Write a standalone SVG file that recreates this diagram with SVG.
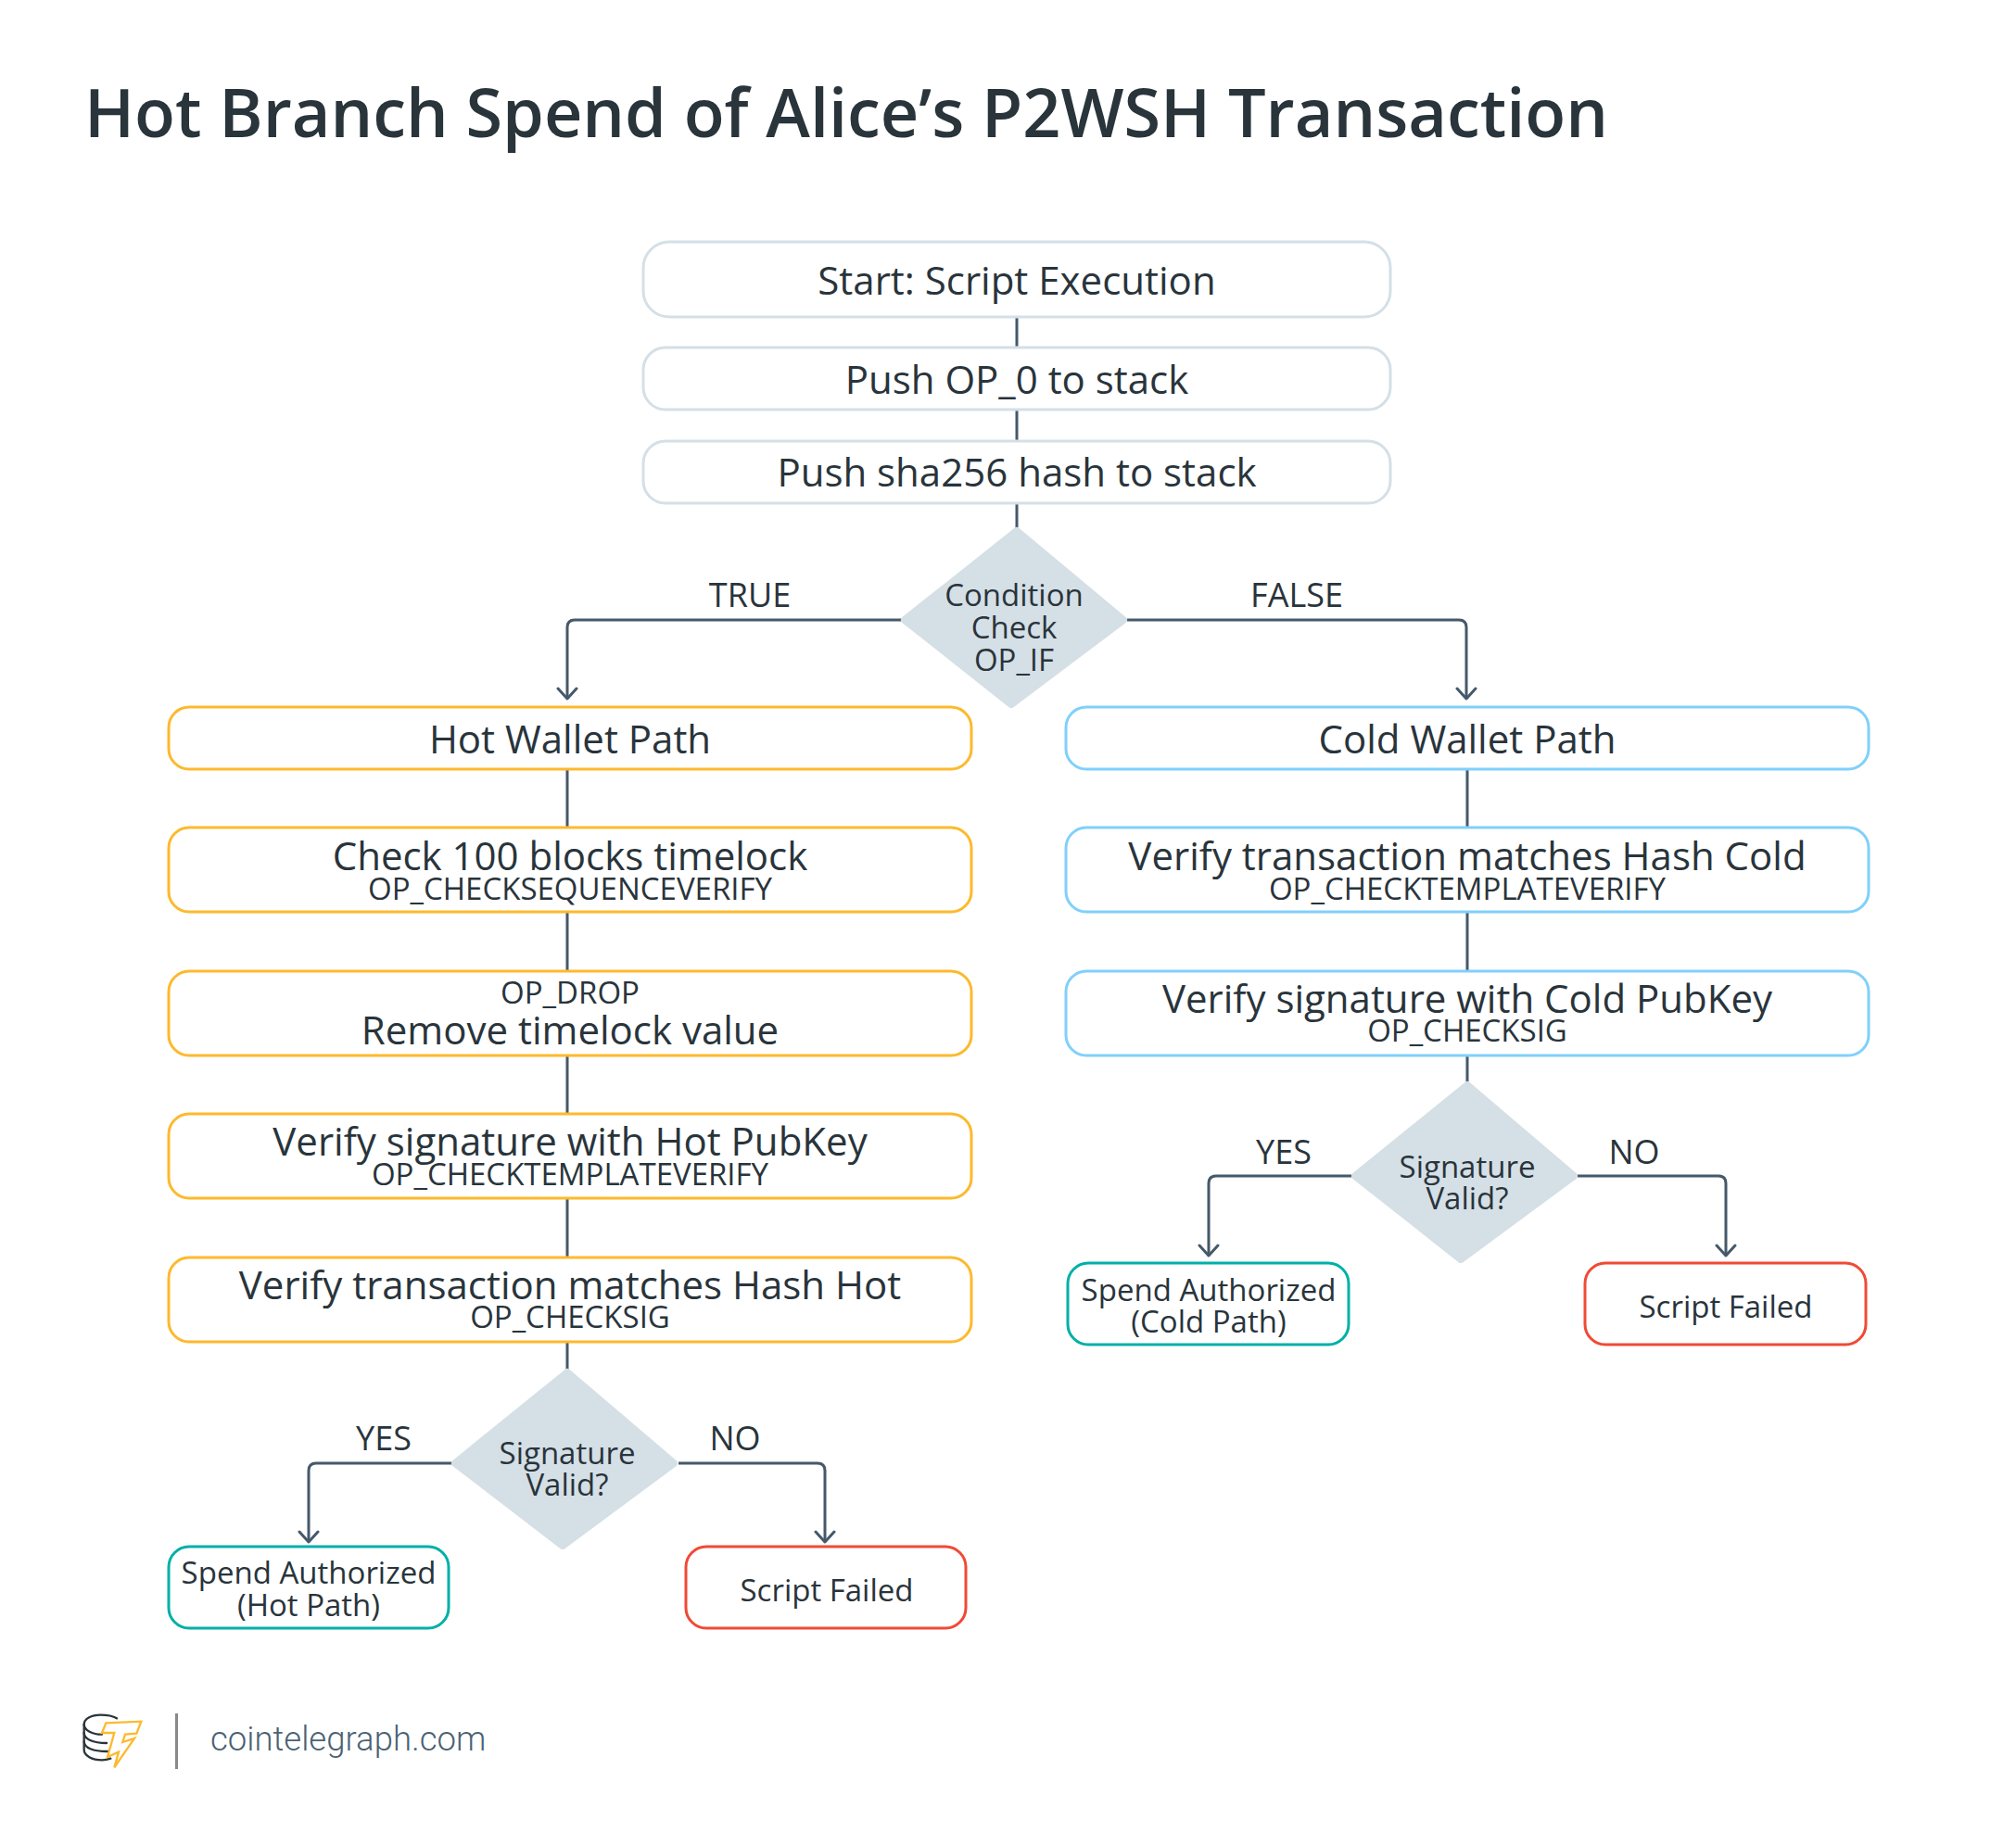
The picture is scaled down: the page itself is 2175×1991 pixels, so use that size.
<svg xmlns="http://www.w3.org/2000/svg" width="2175" height="1991" viewBox="0 0 2175 1991">
<style>
text{font-family:"Open Sans","Noto Sans",sans-serif;fill:#29343b;text-anchor:middle}
.t{font-size:72px;font-weight:600;text-anchor:start}
.l{font-size:42px}
.s{font-size:33px}
.a{font-size:36px}
.b{fill:#fff;stroke-width:3}
.g{stroke:#d5dfe6}.y{stroke:#fdb92d}.c{stroke:#80d0fb}.e{stroke:#00b0a8}.r{stroke:#f04a35}
.d{fill:#d5dfe6;stroke:#d5dfe6;stroke-width:8;stroke-linejoin:round}
.w{fill:none;stroke:#45596a;stroke-width:3}
.m{fill:none;stroke:#45596a;stroke-width:3;stroke-linecap:round;stroke-linejoin:round}
</style>
<rect width="2175" height="1991" fill="#fff"/>
<text class="t" x="91" y="148">Hot Branch Spend of Alice’s P2WSH Transaction</text>
<g id="connectors">
<path class="w" d="M1097 342V375M1097 442V476M1097 543V572"/>
<path class="w" d="M973 669H620Q612 669 612 677V753"/>
<path class="w" d="M1216 669H1574Q1582 669 1582 677V753"/>
<path class="w" d="M612 830V1480M1583 830V1172"/>
<path class="w" d="M488 1579H341Q333 1579 333 1587V1662"/>
<path class="w" d="M732 1579H882Q890 1579 890 1587V1662"/>
<path class="w" d="M1458 1269H1312Q1304 1269 1304 1277V1354"/>
<path class="w" d="M1702 1269H1854Q1862 1269 1862 1277V1354"/>
<path class="m" d="M602 743L612 754L622 743M1572 743L1582 754L1592 743M323 1653L333 1664L343 1653M880 1653L890 1664L900 1653M1294 1344L1304 1355L1314 1344M1852 1344L1862 1355L1872 1344"/>
</g>
<g id="start"><rect class="b g" x="694" y="261" width="806" height="81" rx="28"/><text class="l" x="1097" y="318">Start: Script Execution</text></g>
<g id="push0"><rect class="b g" x="694" y="375" width="806" height="67" rx="24"/><text class="l" x="1097" y="425">Push OP_0 to stack</text></g>
<g id="pushsha"><rect class="b g" x="694" y="476" width="806" height="67" rx="24"/><text class="l" x="1097" y="525">Push sha256 hash to stack</text></g>
<g id="cond"><path class="d" d="M1097 573L1212 669L1091 760L976 669Z"/><text class="s" x="1094" y="654">Condition</text><text class="s" x="1094" y="689">Check</text><text class="s" x="1094" y="724">OP_IF</text></g>
<g id="label-true"><text class="a" x="809" y="655">TRUE</text></g>
<g id="label-false"><text class="a" x="1399" y="655">FALSE</text></g>
<g id="hot1"><rect class="b y" x="182" y="763" width="866" height="67" rx="22"/><text class="l" x="615" y="813">Hot Wallet Path</text></g>
<g id="hot2"><rect class="b y" x="182" y="893" width="866" height="91" rx="22"/><text class="l" x="615" y="939">Check 100 blocks timelock</text><text class="s" x="615" y="971">OP_CHECKSEQUENCEVERIFY</text></g>
<g id="hot3"><rect class="b y" x="182" y="1048" width="866" height="91" rx="22"/><text class="s" x="615" y="1083">OP_DROP</text><text class="l" x="615" y="1127">Remove timelock value</text></g>
<g id="hot4"><rect class="b y" x="182" y="1202" width="866" height="91" rx="22"/><text class="l" x="615" y="1247">Verify signature with Hot PubKey</text><text class="s" x="615" y="1279">OP_CHECKTEMPLATEVERIFY</text></g>
<g id="hot5"><rect class="b y" x="182" y="1357" width="866" height="91" rx="22"/><text class="l" x="615" y="1402">Verify transaction matches Hash Hot</text><text class="s" x="615" y="1433">OP_CHECKSIG</text></g>
<g id="cold1"><rect class="b c" x="1150" y="763" width="866" height="67" rx="22"/><text class="l" x="1583" y="813">Cold Wallet Path</text></g>
<g id="cold2"><rect class="b c" x="1150" y="893" width="866" height="91" rx="22"/><text class="l" x="1583" y="939">Verify transaction matches Hash Cold</text><text class="s" x="1583" y="971">OP_CHECKTEMPLATEVERIFY</text></g>
<g id="cold3"><rect class="b c" x="1150" y="1048" width="866" height="91" rx="22"/><text class="l" x="1583" y="1093">Verify signature with Cold PubKey</text><text class="s" x="1583" y="1124">OP_CHECKSIG</text></g>
<g id="hotsig"><path class="d" d="M612 1481L727 1579L607 1668L491 1579Z"/><text class="s" x="612" y="1580">Signature</text><text class="s" x="612" y="1614">Valid?</text></g>
<g id="coldsig"><path class="d" d="M1583 1171L1698 1269L1576 1359L1462 1269Z"/><text class="s" x="1583" y="1271">Signature</text><text class="s" x="1583" y="1305">Valid?</text></g>
<text class="a" x="414" y="1565">YES</text>
<text class="a" x="793" y="1565">NO</text>
<text class="a" x="1385" y="1256">YES</text>
<text class="a" x="1763" y="1256">NO</text>
<g id="spendhot"><rect class="b e" x="182" y="1669" width="302" height="88" rx="22"/><text class="s" x="333" y="1709">Spend Authorized</text><text class="s" x="333" y="1744">(Hot Path)</text></g>
<g id="failhot"><rect class="b r" x="740" y="1669" width="302" height="88" rx="22"/><text class="s" x="892" y="1728">Script Failed</text></g>
<g id="spendcold"><rect class="b e" x="1152" y="1363" width="303" height="88" rx="22"/><text class="s" x="1304" y="1404">Spend Authorized</text><text class="s" x="1304" y="1438">(Cold Path)</text></g>
<g id="failcold"><rect class="b r" x="1710" y="1363" width="303" height="88" rx="22"/><text class="s" x="1862" y="1422">Script Failed</text></g>
<g id="logo" transform="translate(60,1820) scale(.3333)">
<g fill="none" stroke="#29343b" stroke-width="7" stroke-linecap="round">
<path d="M198 103C180 92 160 92 145 92C115 92 92 105 92 122V205C92 224 118 238 150 238C160 238 170 236 178 233"/>
<path d="M92 122C92 142 120 155 150 155M92 150C92 170 120 183 165 183M92 178C92 198 120 211 172 210"/>
</g>
<path d="M163 118L277 113L262 152L225 155L217 180L255 168L190 262L204 212L168 228L190 150L150 150Z" fill="#fff" stroke="#fdb92d" stroke-width="7" stroke-linejoin="miter"/>
</g>
<path d="M190.500 1849V1909" stroke="#888" stroke-width="3"/>
<text x="227" y="1889" style="font-family:Roboto,sans-serif;font-weight:300;font-size:36.500px;fill:#4a6274;text-anchor:start">cointelegraph.com</text>
</svg>
